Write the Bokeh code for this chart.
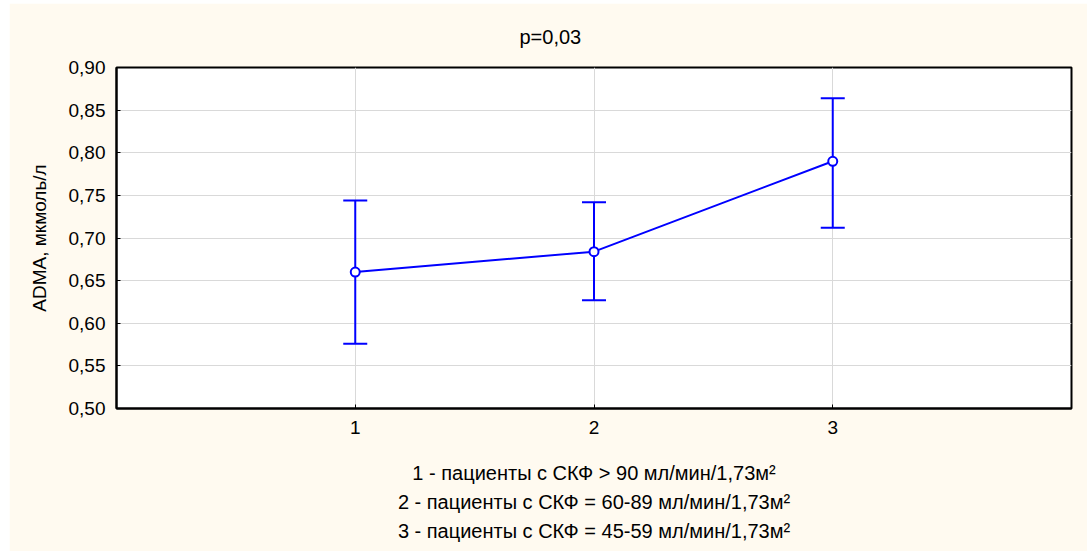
from bokeh.plotting import figure
from bokeh.models import (ColumnDataSource, Whisker, TeeHead, FixedTicker,
                          CustomJSTickFormatter, Title, Range1d)
from bokeh.embed import file_html
from bokeh.resources import INLINE

# Group numbers, ADMA means and confidence limits (мкмоль/л)
groups = [1, 2, 3]
adma_mean = [0.660, 0.684, 0.790]
adma_upper = [0.744, 0.742, 0.864]
adma_lower = [0.576, 0.627, 0.712]

y_ticks = [0.50, 0.55, 0.60, 0.65, 0.70, 0.75, 0.80, 0.85, 0.90]

title_text = "p=0,03"
y_label = "ADMA, мкмоль/л"
notes = [
    "1 - пациенты с СКФ > 90 мл/мин/1,73м²",
    "2 - пациенты с СКФ = 60-89 мл/мин/1,73м²",
    "3 - пациенты с СКФ = 45-59 мл/мин/1,73м²",
]

FONT = "Liberation Sans"
CREAM = "#FFFAF0"
BLUE = "#0000FF"

src = ColumnDataSource(dict(x=groups, y=adma_mean, upper=adma_upper, lower=adma_lower))

p = figure(width=1078, height=548, output_backend="svg", toolbar_location=None,
           x_range=Range1d(0, 4), y_range=Range1d(0.50, 0.90),
           min_border_left=107, min_border_right=16,
           min_border_top=64, min_border_bottom=143)
p.margin = (3, 0, 0, 9)
p.border_fill_color = CREAM
p.background_fill_color = "white"
p.outline_line_color = "black"
p.outline_line_width = 2

# axes
p.xaxis.ticker = FixedTicker(ticks=groups)
p.yaxis.ticker = FixedTicker(ticks=y_ticks)
p.yaxis.formatter = CustomJSTickFormatter(code="return tick.toFixed(2).replace('.', ',');")
for ax in (p.xaxis[0], p.yaxis[0]):
    ax.axis_line_color = "black"
    ax.axis_line_width = 2
    ax.major_tick_in = 4
    ax.major_tick_out = 0
    ax.minor_tick_line_color = None
    ax.major_label_text_font = FONT
    ax.major_label_text_font_size = "19px"
    ax.major_label_text_color = "black"
p.xaxis.major_label_standoff = 12
p.yaxis.major_label_standoff = 11
p.yaxis.axis_label = y_label
p.yaxis.axis_label_text_font = FONT
p.yaxis.axis_label_text_font_size = "19px"
p.yaxis.axis_label_text_font_style = "normal"
p.yaxis.axis_label_text_color = "black"
p.yaxis.axis_label_standoff = 16

p.grid.grid_line_color = "#D9D9D9"
p.grid.grid_line_width = 1

# error bars, mean line and markers
p.add_layout(Whisker(source=src, base="x", upper="upper", lower="lower",
                     line_color=BLUE, line_width=2,
                     upper_head=TeeHead(size=24, line_color=BLUE, line_width=2),
                     lower_head=TeeHead(size=24, line_color=BLUE, line_width=2)))
p.line("x", "y", source=src, line_color=BLUE, line_width=2)
p.scatter("x", "y", source=src, marker="circle", size=9, fill_color="white",
          line_color=BLUE, line_width=2)

# title above the frame
p.add_layout(Title(text=title_text, align="left", offset=403, standoff=40,
                   text_font=FONT, text_font_size="20px", text_font_style="normal",
                   text_color="black"), "above")

# group legend below the x axis: a thin spacer, then one line per group
p.add_layout(Title(text=" ", standoff=18, text_font=FONT, text_font_size="1px"), "below")
for t in notes:
    p.add_layout(Title(text=t, align="center", standoff=5,
                       text_font=FONT, text_font_size="20px", text_font_style="normal",
                       text_color="black"), "below")

open("out.html", "w").write(file_html(p, INLINE))
